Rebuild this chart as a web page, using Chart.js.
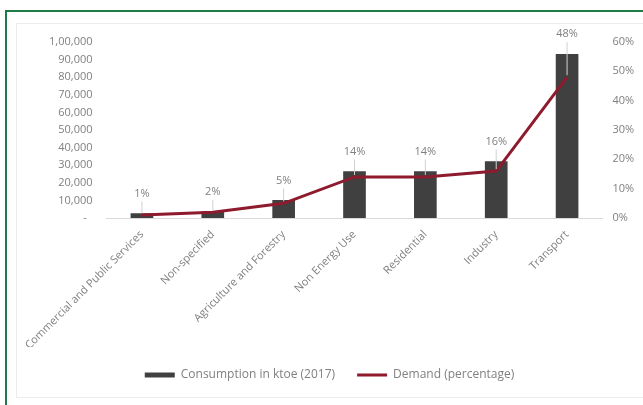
<!DOCTYPE html>
<html>
<head>
<meta charset="utf-8">
<title>Final energy consumption by sector</title>
<script src="https://cdn.jsdelivr.net/npm/chart.js@4.4.1/dist/chart.umd.min.js"></script>
<style>
  html, body { margin: 0; padding: 0; background: #fff; }
  #wrap { position: relative; width: 643px; height: 405px; overflow: hidden; }
  .outer { position: absolute; left: 5px; top: 10px; width: 660px; height: 420px;
           border-left: 2px solid #1f7a46; border-top: 2px solid #1f7a46; }
  .inner { position: absolute; left: 16px; top: 23px; width: 650px; height: 373px;
           border: 1px solid #ececec; }
  #sectorChart { position: absolute; left: 0; top: 0; }
</style>
</head>
<body>
<div id="wrap">
  <div class="outer"></div>
  <div class="inner"></div>
  <canvas id="sectorChart" width="643" height="405"></canvas>
</div>
<script>
const sectors = [
  'Commercial and Public Services',
  'Non-specified',
  'Agriculture and Forestry',
  'Non Energy Use',
  'Residential',
  'Industry',
  'Transport'
];
const consumptionKtoe = [2500, 3500, 10000, 26400, 26400, 32000, 93000];
const demandPct = [1, 2, 5, 14, 14, 16, 48];
const leftTicks = ['-  ', '10,000', '20,000', '30,000', '40,000', '50,000', '60,000', '70,000', '80,000', '90,000', '1,00,000'];
const rightTicks = ['0%', '10%', '20%', '30%', '40%', '50%', '60%'];

const TEXT_GREY = '#808080';
const BAR_COLOR = '#404040';
const LINE_COLOR = '#8e1b2d';

Chart.defaults.font.family = '"Open Sans", sans-serif';
Chart.defaults.font.size = 11;
Chart.defaults.color = TEXT_GREY;

// percentage labels above each bar, with a thin leader down to the line point
const demandLabels = {
  id: 'demandLabels',
  afterDatasetsDraw(chart) {
    const bars = chart.getDatasetMeta(0).data;
    const points = chart.getDatasetMeta(1).data;
    const ctx = chart.ctx;
    ctx.save();
    ctx.font = '11px "Open Sans", sans-serif';
    ctx.fillStyle = TEXT_GREY;
    ctx.textAlign = 'center';
    ctx.textBaseline = 'middle';
    points.forEach((pt, i) => {
      const top = Math.min(bars[i].y, pt.y);
      const ly = top - 20;
      ctx.strokeStyle = '#d0d0d0';
      ctx.lineWidth = 1;
      ctx.beginPath();
      ctx.moveTo(pt.x, ly + 8);
      ctx.lineTo(pt.x, pt.y - 2);
      ctx.stroke();
      ctx.fillText(demandPct[i] + '%', pt.x, ly);
    });
    ctx.restore();
  }
};

const ctx = document.getElementById('sectorChart').getContext('2d');
new Chart(ctx, {
  data: {
    labels: sectors,
    datasets: [
      {
        type: 'bar',
        label: 'Consumption in ktoe (2017)',
        data: consumptionKtoe,
        backgroundColor: BAR_COLOR,
        barThickness: 22,
        yAxisID: 'y',
        order: 2
      },
      {
        type: 'line',
        label: 'Demand (percentage)',
        data: demandPct,
        borderColor: LINE_COLOR,
        backgroundColor: LINE_COLOR,
        borderWidth: 3,
        pointRadius: 0,
        tension: 0,
        yAxisID: 'y1',
        order: 1
      }
    ]
  },
  options: {
    responsive: false,
    animation: false,
    devicePixelRatio: 1,
    layout: { padding: { top: 42, left: 16, right: 0, bottom: 14 } },
    plugins: {
      tooltip: { enabled: false },
      legend: {
        position: 'bottom',
        labels: {
          usePointStyle: true,
          pointStyleWidth: 30,
          boxHeight: 5,
          padding: 22,
          color: TEXT_GREY,
          font: { size: 12 },
          generateLabels: (chart) => [
            { text: chart.data.datasets[0].label, fillStyle: BAR_COLOR, strokeStyle: BAR_COLOR,
              lineWidth: 0, pointStyle: 'rect', datasetIndex: 0, fontColor: TEXT_GREY },
            { text: chart.data.datasets[1].label, fillStyle: LINE_COLOR, strokeStyle: LINE_COLOR,
              lineWidth: 3, pointStyle: 'line', datasetIndex: 1, fontColor: TEXT_GREY }
          ]
        }
      }
    },
    scales: {
      x: {
        grid: { display: false, drawTicks: false },
        border: { display: true, color: '#d9d9d9' },
        ticks: { minRotation: 45, maxRotation: 45, padding: 10, autoSkip: false },
        afterFit: (scale) => { scale.height = 129; }
      },
      y: {
        position: 'left',
        min: 0,
        max: 100000,
        grid: { display: false, drawTicks: false },
        border: { display: false },
        ticks: { stepSize: 10000, padding: 14, callback: (v, i) => leftTicks[i] },
        afterFit: (scale) => { scale.width = 90.5; }
      },
      y1: {
        position: 'right',
        min: 0,
        max: 60,
        grid: { display: false, drawTicks: false },
        border: { display: false },
        ticks: { stepSize: 10, padding: 10, callback: (v, i) => rightTicks[i] },
        afterFit: (scale) => { scale.width = 40.5; }
      }
    }
  },
  plugins: [demandLabels]
});
</script>
</body>
</html>
